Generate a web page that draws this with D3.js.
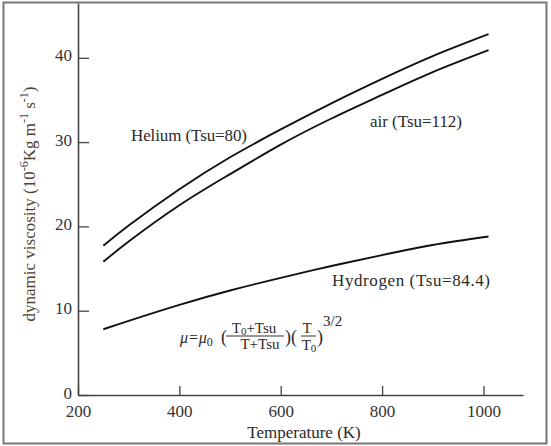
<!DOCTYPE html>
<html>
<head>
<meta charset="utf-8">
<script src="https://cdn.jsdelivr.net/npm/d3@7"></script>
<style>
  html,body{margin:0;padding:0;background:#fff;}
  svg{display:block;}
</style>
</head>
<body>
<svg id="chart" width="551" height="446"></svg>
<script>
// ── data ──
const temps=[250,300,400,500,600,700,800,900,1010];
const helium=[17.7,20.1,24.4,28.2,31.5,34.6,37.5,40.2,42.8];
const air=[15.8,18.2,22.5,26.2,29.7,32.8,35.6,38.3,40.9];
const hydrogen=[7.8,8.8,10.7,12.4,13.9,15.3,16.6,17.8,18.8];
const xTicks=[200,400,600,800,1000];
const yTicks=[0,10,20,30,40];

const svg=d3.select('#chart');
const W=551,H=446;
const m={left:78,top:3,right:28,bottom:51};

// outer frame
svg.append('rect').attr('x',3.5).attr('y',2.5).attr('width',543).attr('height',441)
  .attr('fill','none').attr('stroke','#777').attr('stroke-width',2);

const x=d3.scaleLinear().domain([200,1078]).range([m.left,W-m.right]);
const y=d3.scaleLinear().domain([0,46.5]).range([H-m.bottom,m.top]);

// axes — ticks point inward
const xAxis=svg.append('g').attr('transform',`translate(0,${y(0)})`)
  .call(d3.axisBottom(x).tickValues(xTicks).tickFormat(d3.format('d'))
    .tickSizeInner(-9).tickSizeOuter(0).tickPadding(10));
const yAxis=svg.append('g').attr('transform',`translate(${x(200)},0)`)
  .call(d3.axisLeft(y).tickValues(yTicks).tickSizeInner(-11).tickSizeOuter(0).tickPadding(6));
[xAxis,yAxis].forEach(a=>{
  a.select('.domain').attr('stroke','#444').attr('stroke-width',1.6);
  a.selectAll('.tick line').attr('stroke','#444').attr('stroke-width',1.3);
  a.selectAll('.tick text').attr('font-size',17).attr('fill','#333');
});
yAxis.selectAll('.tick text').attr('dy','0.18em');

// axis titles
svg.append('text').attr('x',304).attr('y',438).attr('text-anchor','middle')
  .attr('font-size',17).text('Temperature (K)');
const yl=svg.append('text').attr('transform','translate(35,204) rotate(-90)')
  .attr('text-anchor','middle').attr('font-size',17).attr('fill','#4e4236');
yl.append('tspan').text('dynamic viscosity  (10');
yl.append('tspan').attr('font-size',12).attr('dy',-7).text('-6');
yl.append('tspan').attr('dy',7).text('Kg m');
yl.append('tspan').attr('font-size',12).attr('dy',-7).text('-1');
yl.append('tspan').attr('dy',7).text(' s');
yl.append('tspan').attr('font-size',12).attr('dy',-7).text('-1');
yl.append('tspan').attr('dy',7).text(')');

// curves
const line=d3.line().x((d,i)=>x(temps[i])).y(d=>y(d)).curve(d3.curveNatural);
[helium,air,hydrogen].forEach(s=>{
  svg.append('path').datum(s).attr('d',line)
    .attr('fill','none').attr('stroke','#111').attr('stroke-width',1.9);
});

// labels
function label(tx,ty,str,len){
  svg.append('text').attr('x',tx).attr('y',ty).attr('font-size',17)
    .attr('textLength',len).attr('lengthAdjust','spacing').text(str);
}
label(131,141,'Helium (Tsu=80)',116);
label(370,127,'air (Tsu=112)',92);
label(332,286,'Hydrogen (Tsu=84.4)',158);

// formula
const f=svg.append('g');
const t1=f.append('text').attr('x',180).attr('y',343).attr('font-size',16);
t1.append('tspan').attr('font-style','italic').text('\u03bc=\u03bc');
t1.append('tspan').attr('font-size',12).attr('dy',3).text('0');
f.append('text').attr('x',221).attr('y',343).attr('font-size',18).text('(');
const n1=f.append('text').attr('x',254).attr('y',333).attr('text-anchor','middle').attr('font-size',15);
n1.append('tspan').text('T');
n1.append('tspan').attr('font-size',11).attr('dy',2).text('0');
n1.append('tspan').attr('dy',-2).text('+Tsu');
f.append('line').attr('x1',226).attr('x2',284).attr('y1',336).attr('y2',336).attr('stroke','#333').attr('stroke-width',1);
f.append('text').attr('x',260).attr('y',349).attr('text-anchor','middle').attr('font-size',15).text('T+Tsu');
f.append('text').attr('x',285).attr('y',343).attr('font-size',18).text(')(');
f.append('text').attr('x',307).attr('y',333).attr('text-anchor','middle').attr('font-size',15).text('T');
f.append('line').attr('x1',301).attr('x2',316).attr('y1',336).attr('y2',336).attr('stroke','#333').attr('stroke-width',1);
const d2=f.append('text').attr('x',309).attr('y',350).attr('text-anchor','middle').attr('font-size',15);
d2.append('tspan').text('T');
d2.append('tspan').attr('font-size',11).attr('dy',2).text('0');
f.append('text').attr('x',317).attr('y',343).attr('font-size',18).text(')');
f.append('text').attr('x',323).attr('y',326).attr('font-size',15).text('3/2');

// serif everywhere (inline style so nothing overrides it)
svg.selectAll('text').style('font-family','"Liberation Serif"');
svg.selectAll('text').filter(function(){return !this.getAttribute('fill');}).attr('fill','#2a2a2a');
</script>
</body>
</html>
